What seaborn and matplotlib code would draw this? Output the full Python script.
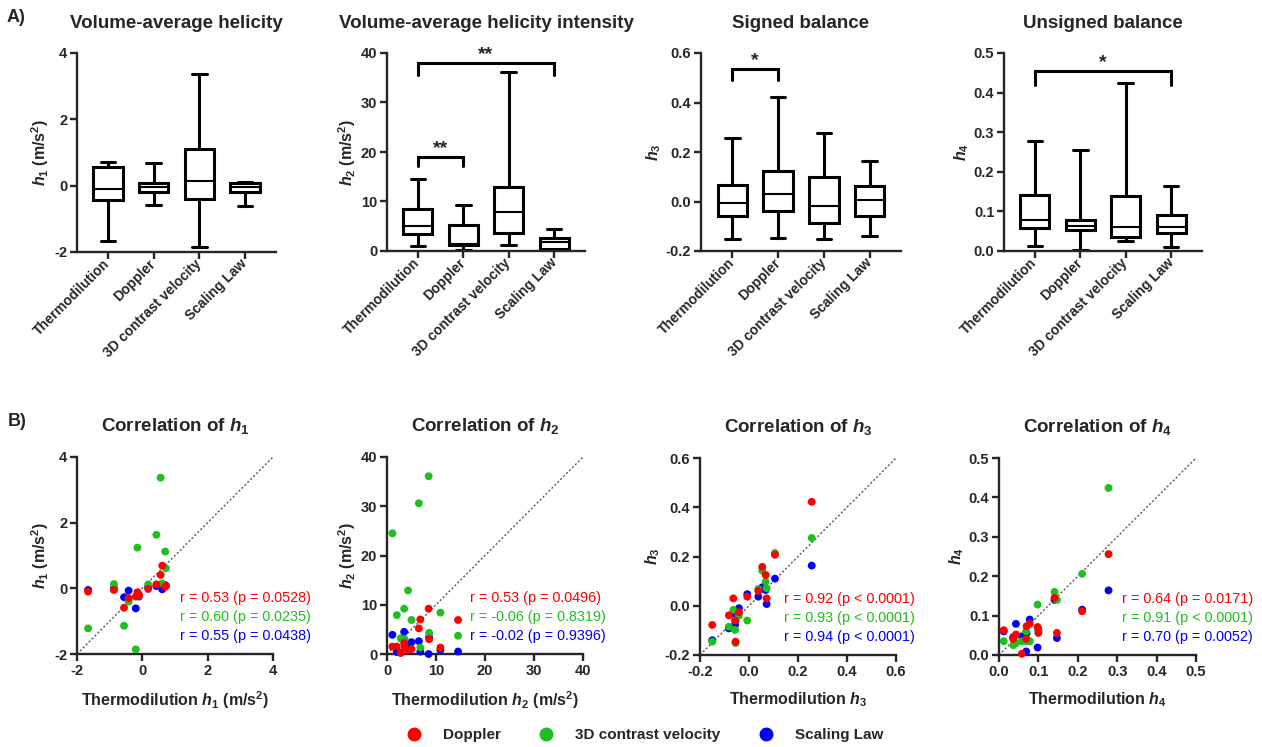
import numpy as np
import pandas as pd
import matplotlib.pyplot as plt
from matplotlib.lines import Line2D
import seaborn as sns

sns.set_style('ticks')
plt.rcParams['font.family'] = ['Liberation Sans', 'DejaVu Sans']
plt.rcParams['font.weight'] = 'bold'
plt.rcParams['axes.labelweight'] = 'bold'
plt.rcParams['axes.titleweight'] = 'bold'
plt.rcParams['axes.unicode_minus'] = False
plt.rcParams['mathtext.fontset'] = 'custom'
plt.rcParams['mathtext.rm'] = 'Liberation Sans:bold'
plt.rcParams['mathtext.it'] = 'Liberation Sans:italic:bold'
plt.rcParams['mathtext.bf'] = 'Liberation Sans:bold'

methods = ['Doppler', '3D contrast velocity', 'Scaling Law']
groups = ['Thermodilution'] + methods
colors = ['#ff0000', '#1fbf1f', '#0000ff']

# per-patient values
h1_thermo  = [-1.66, -0.87, -0.56, -0.42, -0.20, -0.15, -0.10, 0.18, 0.43, 0.56, 0.61, 0.70, 0.72]
h1_doppler = [-0.10, -0.05, -0.59, -0.30, -0.25, -0.12, -0.20, -0.02, 0.12, 0.41, 0.69, 0.05, 0.07]
h1_contrast = [-1.22, 0.13, -1.14, -0.40, -1.86, 1.24, -0.22, 0.12, 1.63, 3.37, 0.15, 1.12, 0.61]
h1_scaling = [-0.05, 0.00, -0.27, -0.07, -0.61, -0.20, -0.25, 0.03, 0.07, 0.10, -0.03, 0.10, 0.08]

h2_thermo  = [1.1, 2.0, 2.8, 3.5, 3.6, 4.3, 5.0, 6.5, 6.8, 8.5, 8.6, 10.9, 14.5]
h2_doppler = [1.5, 1.5, 0.2, 2.2, 1.5, 0.8, 1.0, 5.2, 7.0, 9.2, 3.0, 1.3, 6.9]
h2_contrast = [24.5, 7.9, 3.2, 9.2, 3.0, 12.9, 6.9, 30.6, 1.3, 36.1, 4.3, 8.4, 3.7]
h2_scaling = [3.9, 0.4, 0.3, 4.5, 2.2, 1.8, 2.4, 2.6, 0.5, 0.0, 3.4, 0.8, 0.5]

h3_thermo  = [-0.150, -0.082, -0.064, -0.057, -0.055, -0.041, -0.007, 0.038, 0.054, 0.068, 0.072, 0.106, 0.256]
h3_doppler = [-0.078, -0.039, 0.030, -0.060, -0.146, -0.026, 0.037, 0.060, 0.158, 0.125, 0.030, 0.207, 0.422]
h3_contrast = [-0.146, -0.085, -0.017, -0.098, -0.152, -0.040, -0.060, 0.068, 0.143, 0.098, 0.071, 0.214, 0.275]
h3_scaling = [-0.140, -0.092, -0.030, -0.078, -0.060, -0.010, 0.047, 0.037, 0.075, 0.064, 0.007, 0.110, 0.163]

h4_thermo  = [0.012, 0.036, 0.043, 0.058, 0.069, 0.070, 0.078, 0.098, 0.100, 0.141, 0.147, 0.211, 0.278]
h4_doppler = [0.063, 0.041, 0.052, 0.003, 0.041, 0.073, 0.079, 0.071, 0.056, 0.145, 0.056, 0.111, 0.256]
h4_contrast = [0.035, 0.025, 0.030, 0.035, 0.060, 0.035, 0.035, 0.128, 0.060, 0.160, 0.140, 0.206, 0.424]
h4_scaling = [0.060, 0.045, 0.079, 0.047, 0.009, 0.055, 0.090, 0.019, 0.064, 0.140, 0.043, 0.115, 0.164]

data = [
    (h1_thermo, h1_doppler, h1_contrast, h1_scaling),
    (h2_thermo, h2_doppler, h2_contrast, h2_scaling),
    (h3_thermo, h3_doppler, h3_contrast, h3_scaling),
    (h4_thermo, h4_doppler, h4_contrast, h4_scaling),
]

top_titles = ['Volume-average helicity', 'Volume-average helicity intensity',
              'Signed balance', 'Unsigned balance']
bottom_titles = [r'Correlation of $h_1$', r'Correlation of $h_2$',
                 r'Correlation of $h_3$', r'Correlation of $h_4$']
ylabels = [r'$h_1$ (m/s$^2$)', r'$h_2$ (m/s$^2$)', r'$h_3$', r'$h_4$']
xlabels = [r'Thermodilution $h_1$ (m/s$^2$)', r'Thermodilution $h_2$ (m/s$^2$)',
           r'Thermodilution $h_3$', r'Thermodilution $h_4$']
limits = [(-2, 4), (0, 40), (-0.2, 0.6), (0, 0.5)]
ticks = [[-2, 0, 2, 4], [0, 10, 20, 30, 40],
         [-0.2, 0.0, 0.2, 0.4, 0.6], [0.0, 0.1, 0.2, 0.3, 0.4, 0.5]]
fmts = ['{:.0f}', '{:.0f}', '{:.1f}', '{:.1f}']

stats = [
    ['r = 0.53 (p = 0.0528)', 'r = 0.60 (p = 0.0235)', 'r = 0.55 (p = 0.0438)'],
    ['r = 0.53 (p = 0.0496)', 'r = -0.06 (p = 0.8319)', 'r = -0.02 (p = 0.9396)'],
    ['r = 0.92 (p < 0.0001)', 'r = 0.93 (p < 0.0001)', 'r = 0.94 (p < 0.0001)'],
    ['r = 0.64 (p = 0.0171)', 'r = 0.91 (p < 0.0001)', 'r = 0.70 (p = 0.0052)'],
]
stats_x = [0.526, 0.423, 0.43, 0.626]

# (panel, group a, group b, bracket height, leg end, label)
brackets = [
    (1, 0, 1, 19.0, 17.2, '**'),
    (1, 0, 3, 38.0, 35.5, '**'),
    (2, 0, 1, 0.535, 0.49, '*'),
    (3, 0, 3, 0.455, 0.42, '*'),
]

W, H = 1262, 747
fig = plt.figure(figsize=(W / 100, H / 100), dpi=100)


def rect(l, r, t, b):
    return [l / W, 1 - b / H, (r - l) / W, (b - t) / H]


top_rects = [(77, 276, 53, 252), (387, 585, 53, 251), (701, 901, 53, 251), (1004, 1202, 53, 251)]
bot_rects = [(77, 273, 457, 654), (387, 583, 457, 654), (700, 896, 458, 655), (999, 1196, 458, 655)]


def style_axes(ax):
    sns.despine(ax=ax)
    for s in ['left', 'bottom']:
        ax.spines[s].set_linewidth(1.7)
    ax.tick_params(width=1.7, length=5, labelsize=10.5, pad=2)


top_axes = []
for i in range(4):
    ax = fig.add_axes(rect(*top_rects[i]))
    long = pd.DataFrame({'group': np.repeat(groups, [len(v) for v in data[i]]),
                         'value': np.concatenate(data[i])})
    sns.boxplot(data=long, x='group', y='value', order=groups, ax=ax,
                color='white', linecolor='black', linewidth=2.2, width=0.64,
                whis=(0, 100), showfliers=False,
                medianprops=dict(linewidth=1.5))
    ax.set_xlim(-0.68, 3.68)
    ax.set_ylim(*limits[i])
    ax.set_yticks(ticks[i])
    ax.set_yticklabels([fmts[i].format(t) for t in ticks[i]])
    ax.set_xticks(range(4))
    ax.set_xlabel('')
    ax.set_ylabel(ylabels[i], fontsize=11.5, labelpad=2)
    ax.set_title(top_titles[i], fontsize=13.5, pad=18)
    style_axes(ax)
    ax.set_xticklabels(groups, rotation=45, ha='right', va='center',
                       rotation_mode='anchor', fontsize=10)
    top_axes.append(ax)

for p, a, b, y, yl, lab in brackets:
    ax = top_axes[p]
    ax.plot([a, a, b, b], [yl, y, y, yl], color='black', lw=2.2, clip_on=False,
            solid_joinstyle='miter')
    ax.text((a + b) / 2, y, lab, ha='center', va='bottom', fontsize=14,
            fontweight='bold')

for i in range(4):
    ax = fig.add_axes(rect(*bot_rects[i]))
    thermo = data[i][0]
    rows = []
    for m, vals in reversed(list(zip(methods, data[i][1:]))):
        rows.append(pd.DataFrame({'thermo': thermo, 'value': vals, 'method': m}))
    sc = pd.concat(rows, ignore_index=True)
    lo, hi = limits[i]
    ax.plot([lo, hi], [lo, hi], ls=(0, (1.5, 1.5)), color='0.35', lw=1, zorder=1)
    sns.scatterplot(data=sc, x='thermo', y='value', hue='method', hue_order=methods,
                    palette=colors, s=32, edgecolor='none', legend=False, ax=ax,
                    zorder=3, clip_on=False)
    ax.set_xlim(lo, hi)
    ax.set_ylim(lo, hi)
    ax.set_xticks(ticks[i])
    ax.set_xticklabels([fmts[i].format(t) for t in ticks[i]])
    ax.set_yticks(ticks[i])
    ax.set_yticklabels([fmts[i].format(t) for t in ticks[i]])
    ax.set_xlabel(xlabels[i], fontsize=11.5, labelpad=8)
    ax.set_ylabel(ylabels[i], fontsize=11.5, labelpad=2)
    ax.set_title(bottom_titles[i], fontsize=13.5, pad=19)
    style_axes(ax)
    for k, (txt, c) in enumerate(zip(stats[i], colors)):
        ax.text(stats_x[i], 0.284 - 0.0965 * k, txt, color=c, fontsize=10.4,
                fontweight='normal', transform=ax.transAxes, ha='left', va='center')

fig.text(7 / W, 1 - 17 / H, 'A)', fontsize=13, fontweight='bold', va='center')
fig.text(8 / W, 1 - 421 / H, 'B)', fontsize=13, fontweight='bold', va='center')

handles = [Line2D([], [], marker='o', ls='', color=c, markersize=9) for c in colors]
fig.legend(handles, methods, loc='center', bbox_to_anchor=(0.508, 1 - 735 / H),
           ncol=3, frameon=False, handletextpad=0.9,
           columnspacing=1.95, prop={'weight': 'bold', 'size': 11})

fig.savefig('out.png', dpi=100)
